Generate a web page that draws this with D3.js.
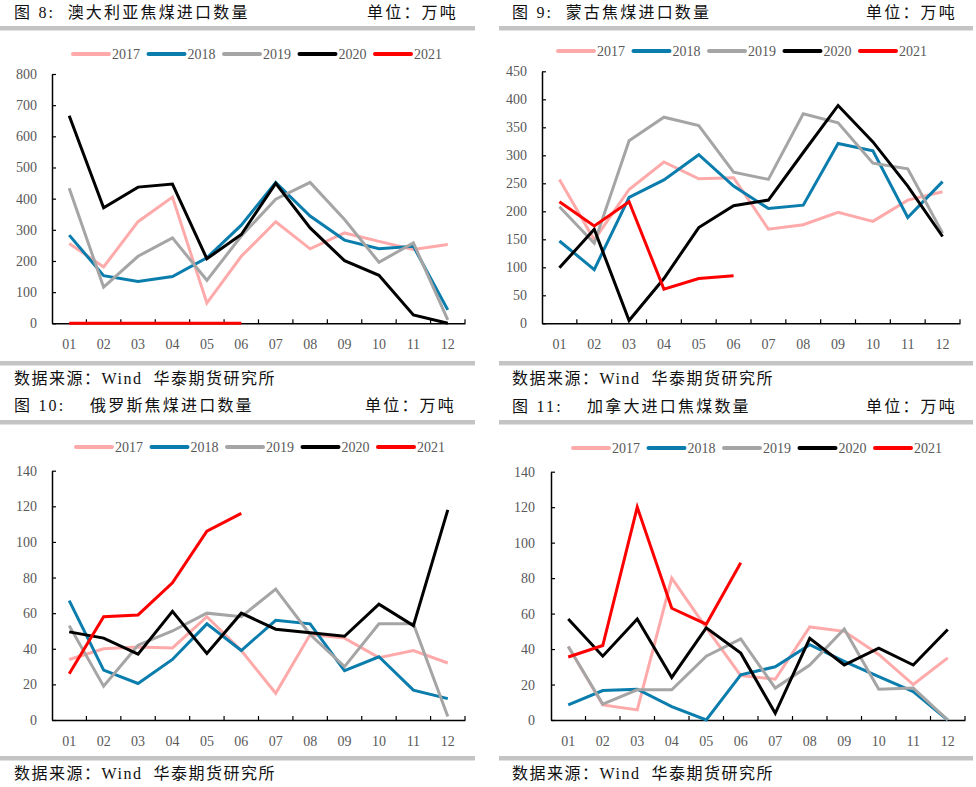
<!DOCTYPE html>
<html><head><meta charset="utf-8">
<script src="https://cdn.jsdelivr.net/npm/d3@7"></script>
<style>
body{margin:0;background:#fff;}
svg{display:block;}
text{font-family:"Liberation Serif","Noto Sans CJK SC",serif;}
</style></head>
<body><svg id="c" width="976" height="787"></svg>
<script>
const months = ["01","02","03","04","05","06","07","08","09","10","11","12"];
const years = ["2017","2018","2019","2020","2021"];
const colors = ["#FFAAAA","#0A7DAD","#A5A5A5","#000000","#FF0000"];

// 图8 澳大利亚
const au2017 = [256,181,326,405,65,215,326,239,290,263,237,253];
const au2018 = [283,153,134,150,210,315,452,344,267,239,247,43];
const au2019 = [433,116,215,274,138,280,398,452,333,196,258,11];
const au2020 = [666,371,437,447,207,285,449,306,201,154,27,0];
const au2021 = [0,0,0,0,0,0];
// 图9 蒙古
const mn2017 = [257,149,239,288,258,260,168,176,198,182,220,235];
const mn2018 = [147,96,225,256,301,245,205,211,321,308,189,253];
const mn2019 = [208,143,326,368,353,270,257,374,358,286,276,161];
const mn2020 = [99,168,5,80,171,210,220,305,389,324,245,155];
const mn2021 = [217,174,217,61,80,85];
// 图10 俄罗斯
const ru2017 = [34,40,41,40.5,58,39,15,48,46,35,39,32];
const ru2018 = [67,28,20.5,34,54,39,56,54,27.7,35.5,16.8,12];
const ru2019 = [53,19,42,50,60,58,73.5,48,30,54,54,2];
const ru2020 = [49.5,46,37,61,37.4,60,51,49,47,65,53,118];
const ru2021 = [26,58,59,77,106,116];
// 图11 加拿大
const ca2017 = [41.5,8.5,5.7,80,52,25,23,52.5,50,37,20,35];
const ca2018 = [8.5,16.6,17.4,7.5,0,25.5,30,42.5,33,24.5,16,0];
const ca2019 = [41.5,9,17,17,36,45.7,18,31,51.3,17.4,18,0];
const ca2020 = [57,36,57,24,52,37.7,3.8,46,31,40.5,31,51];
const ca2021 = [35.5,42,120,63,54,88.7];

const titles = ["图 8:  澳大利亚焦煤进口数量","图 9:  蒙古焦煤进口数量","图 10:","图 11:"];
const subTitles = ["","","俄罗斯焦煤进口数量","加拿大进口焦煤数量"];
const unitLabel = "单位：万吨";
const sourceLabel = "数据来源：Wind  华泰期货研究所";

const svg = d3.select("#c");

const panels = [
  {bx0:0,bx1:475,ty:12,barTop:26,barBot:361,src:378,titleX:14,subX:0,unitX:458,
   x0:52,x1:465,yTop:74,yBot:323.3,max:800,step:100,labR:37,legX:73,legY:54,
   series:[au2017,au2018,au2019,au2020,au2021]},
  {bx0:499,bx1:973,ty:12,barTop:26,barBot:361,src:378,titleX:512,subX:0,unitX:957,
   x0:542,x1:960,yTop:71.3,yBot:323.3,max:450,step:50,labR:527,legX:558,legY:51,
   series:[mn2017,mn2018,mn2019,mn2020,mn2021]},
  {bx0:0,bx1:475,ty:405,barTop:420,barBot:756,src:773,titleX:14,subX:90,unitX:456,
   x0:52,x1:465,yTop:470.7,yBot:720,max:140,step:20,labR:37,legX:76,legY:447,
   series:[ru2017,ru2018,ru2019,ru2020,ru2021]},
  {bx0:499,bx1:973,ty:406,barTop:420,barBot:756,src:773,titleX:512,subX:587,unitX:957,
   x0:551,x1:965,yTop:471.7,yBot:720,max:140,step:20,labR:535,legX:573,legY:448,
   series:[ca2017,ca2018,ca2019,ca2020,ca2021]}
];

panels.forEach((p,i)=>{
  const g = svg.append("g");
  // title
  g.append("text").attr("x",p.titleX).attr("y",p.ty).attr("dy","0.35em")
    .attr("font-size",16).attr("letter-spacing",2.2).attr("font-weight",400).attr("fill","#111")
    .attr("xml:space","preserve").text(titles[i]);
  if(subTitles[i]) g.append("text").attr("x",p.subX).attr("y",p.ty).attr("dy","0.35em")
    .attr("font-size",16).attr("letter-spacing",2.2).attr("font-weight",400).attr("fill","#111").text(subTitles[i]);
  g.append("text").attr("x",p.unitX).attr("y",p.ty).attr("dy","0.35em").attr("text-anchor","end")
    .attr("font-size",16).attr("letter-spacing",2.2).attr("font-weight",400).attr("fill","#111").text(unitLabel);
  // gray bars
  g.append("rect").attr("x",p.bx0).attr("y",p.barTop).attr("width",p.bx1-p.bx0).attr("height",4.5).attr("fill","#C4C4C4");
  g.append("rect").attr("x",p.bx0).attr("y",p.barBot).attr("width",p.bx1-p.bx0).attr("height",4.5).attr("fill","#C4C4C4");
  g.append("text").attr("x",p.titleX).attr("y",p.src).attr("dy","0.35em")
    .attr("font-size",16).attr("letter-spacing",1.5).attr("font-weight",400).attr("fill","#111")
    .attr("xml:space","preserve").text(sourceLabel);

  const x = d3.scaleBand().domain(months).range([p.x0,p.x1]);
  const y = d3.scaleLinear().domain([0,p.max]).range([p.yBot,p.yTop]);

  // y axis
  const ya = g.append("g").attr("transform",`translate(${p.x0},0)`)
    .call(d3.axisLeft(y).tickValues(d3.range(0,p.max+0.001,p.step)).tickSizeInner(-4).tickSizeOuter(0).tickFormat(d3.format("d")));
  ya.select(".domain").attr("stroke","#000").attr("stroke-width",1.5);
  ya.selectAll(".tick line").attr("stroke","#000").attr("stroke-width",1.2);
  ya.selectAll(".tick text").attr("x",p.labR-p.x0).attr("font-size",14).attr("fill","#595959")
    .attr("font-family","Liberation Serif");

  // x axis
  const xa = g.append("g").attr("transform",`translate(0,${p.yBot})`)
    .call(d3.axisBottom(x).tickSize(0).tickPadding(16));
  xa.select(".domain").attr("stroke","#000").attr("stroke-width",1.5);
  xa.selectAll(".tick text").attr("font-size",14).attr("fill","#595959").attr("font-family","Liberation Serif");
  // boundary ticks (inward)
  g.append("g").selectAll("line").data(months).join("line")
    .attr("x1",d=>x(d)+x.bandwidth()).attr("x2",d=>x(d)+x.bandwidth())
    .attr("y1",p.yBot).attr("y2",p.yBot-4).attr("stroke","#000").attr("stroke-width",1.2);

  // lines
  const line = d3.line().x((d,k)=>x(months[k])+x.bandwidth()/2).y(d=>y(d));
  p.series.forEach((s,k)=>{
    g.append("path").datum(s).attr("d",line).attr("fill","none")
      .attr("stroke",colors[k]).attr("stroke-width",3).attr("stroke-linejoin","miter");
  });

  // legend
  const lg = g.append("g");
  years.forEach((yr,k)=>{
    const lx = p.legX + k*75.5;
    lg.append("line").attr("x1",lx).attr("x2",lx+36).attr("y1",p.legY).attr("y2",p.legY)
      .attr("stroke",colors[k]).attr("stroke-width",4).attr("stroke-linecap","round");
    lg.append("text").attr("x",lx+39).attr("y",p.legY).attr("dy","0.35em")
      .attr("font-size",14).attr("fill","#595959").attr("font-family","Liberation Serif").text(yr);
  });
});
</script></body></html>
